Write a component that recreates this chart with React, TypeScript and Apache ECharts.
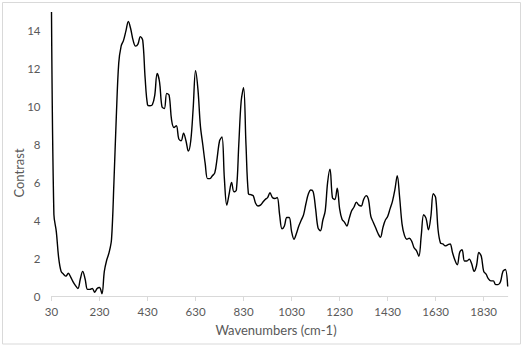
import React, { useEffect, useRef } from "react";
import * as echarts from "echarts";

// Wavenumber grid: 30 .. 1930 cm-1, step 10
const START = 30;
const STEP = 10;
const contrast: number[] = [
  // 30-120
  15.0, 4.3, 3.4, 2.0, 1.3, 1.15, 1.05, 1.2, 1.0, 0.75,
  // 130-220
  0.55, 0.4, 0.9, 1.3, 0.9, 0.35, 0.35, 0.4, 0.2, 0.4,
  // 230-320
  0.45, 0.12, 1.3, 1.9, 2.3, 3.0, 6.0, 9.5, 12.3, 13.2,
  // 330-420
  13.5, 14.0, 14.5, 14.1, 13.5, 13.2, 13.3, 13.7, 13.5, 11.5,
  // 430-520
  10.1, 10.05, 10.1, 10.6, 11.75, 11.3, 10.0, 9.9, 10.7, 10.6,
  // 530-620
  9.3, 8.9, 9.0, 8.3, 8.2, 8.6, 8.2, 7.65, 8.2, 9.9,
  // 630-720
  11.9, 10.9, 9.0, 8.0, 7.0, 6.2, 6.2, 6.35, 6.5, 7.3,
  // 730-820
  8.2, 8.4, 6.2, 4.8, 5.4, 6.0, 5.5, 5.6, 8.0, 10.3,
  // 830-920
  11.0, 8.0, 5.4, 5.35, 5.3, 4.9, 4.75, 4.8, 4.95, 5.1,
  // 930-1020
  5.2, 5.45, 5.2, 5.15, 5.2, 4.3, 3.55, 3.7, 4.15, 4.15,
  // 1030-1120
  3.4, 3.0, 3.3, 3.7, 4.0, 4.3, 4.9, 5.4, 5.6, 5.5,
  // 1130-1220
  4.6, 3.6, 3.45, 4.0, 4.5, 6.0, 6.7, 5.2, 5.1, 5.7,
  // 1230-1320
  4.6, 4.05, 3.9, 3.7, 4.1, 4.5, 4.7, 4.95, 4.8, 4.75,
  // 1330-1420
  5.1, 5.3, 5.1, 4.2, 3.9, 3.6, 3.3, 3.1, 3.6, 4.0,
  // 1430-1520
  4.2, 4.6, 5.0, 5.6, 6.35, 5.2, 3.8, 3.2, 3.0, 3.05,
  // 1530-1620
  2.9, 2.55, 2.4, 2.1, 3.2, 4.3, 4.1, 3.5, 4.2, 5.4,
  // 1630-1720
  5.2, 3.5, 2.8, 2.75, 2.65, 2.7, 2.75, 2.3, 1.9, 1.65,
  // 1730-1820
  2.3, 2.45, 1.85, 1.85, 1.95, 1.7, 1.3, 1.6, 2.3, 2.1,
  // 1830-1930
  1.3, 1.15, 0.9, 0.8, 0.8, 0.6, 0.6, 0.75, 1.3, 1.4, 0.5,
];
const wavenumbers: string[] = contrast.map((_, i) => String(START + i * STEP));

const yTitle = "Contrast";
const xTitle = "Wavenumbers (cm-1)";

export default function App() {
  const ref = useRef<HTMLDivElement>(null);
  useEffect(() => {
    if (!ref.current) return;
    const chart = echarts.init(ref.current, undefined, { renderer: "svg" });
    const font = "Lato, 'Open Sans', sans-serif";
    chart.setOption({
      animation: false,
      backgroundColor: "#ffffff",
      grid: { left: 51.5, right: 21.3, top: 12, bottom: 51, containLabel: false },
      xAxis: {
        type: "category",
        data: wavenumbers,
        boundaryGap: false,
        axisLine: { show: true, lineStyle: { color: "#d9d9d9", width: 1 } },
        axisTick: { show: true, interval: 19, length: 5, lineStyle: { color: "#d9d9d9" } },
        axisLabel: { interval: 19, color: "#595959", fontSize: 11.5, fontFamily: font, margin: 9 },
        splitLine: { show: false },
      },
      yAxis: {
        type: "value",
        min: 0,
        max: 15,
        interval: 2,
        axisLine: { show: false },
        axisTick: { show: false },
        splitLine: { show: false },
        axisLabel: { color: "#595959", fontSize: 11.5, fontFamily: font, margin: 11, showMaxLabel: false },
      },
      series: [
        {
          type: "line",
          data: contrast,
          smooth: 0.35,
          showSymbol: false,
          lineStyle: { color: "#000000", width: 1.4 },
        },
      ],
      graphic: [
        {
          type: "rect",
          shape: { x: 2.5, y: 2.5, width: 518, height: 341.5 },
          style: { fill: "none", stroke: "#d9d9d9", lineWidth: 1 },
          silent: true,
        },
        {
          type: "text",
          x: 19,
          y: 173,
          rotation: Math.PI / 2,
          style: {
            text: yTitle,
            fill: "#595959",
            fontSize: 13,
            fontFamily: font,
            align: "center",
            verticalAlign: "middle",
          },
        },
        {
          type: "text",
          x: 276,
          y: 330,
          style: {
            text: xTitle,
            fill: "#595959",
            fontSize: 13,
            fontFamily: font,
            align: "center",
            verticalAlign: "middle",
          },
        },
      ],
    });
    return () => chart.dispose();
  }, []);
  return (
    <div
      ref={ref}
      style={{ position: "fixed", left: 0, top: 0, width: 529, height: 347, background: "#fff" }}
    />
  );
}
